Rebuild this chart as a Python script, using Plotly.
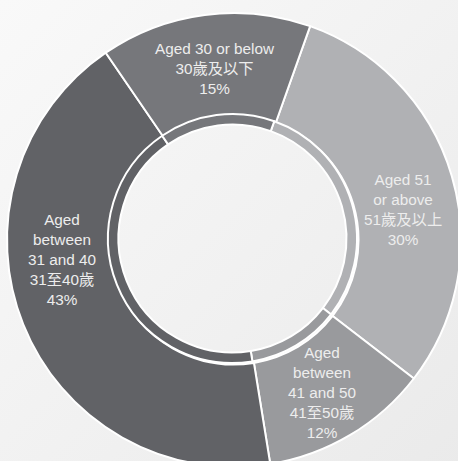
import base64
import plotly.graph_objects as go

# Data
labels = ["Aged 51 or above", "Aged between 41 and 50", "Aged between 31 and 40", "Aged 30 or below"]
label_text = [
    "Aged 51<br>or above<br>51歲及以上<br>30%",
    "Aged<br>between<br>41 and 50<br>41至50歲<br>12%",
    "Aged<br>between<br>31 and 40<br>31至40歲<br>43%",
    "Aged 30 or below<br>30歲及以下<br>15%",
]
values = [30, 12, 43, 15]
colors = ["#b0b1b4", "#999a9d", "#616266", "#76777b"]

# label centres in pixels (x from left, y from top)
label_px = [(403, 209.5), (322, 392), (62, 259.5), (215, 69)]

# Figure is slightly larger than the 458x461 window so the ring can be cropped at the edges
W, H = 466, 472
CX, CY, R = 234, 240, 227          # outer ring centre / radius (pixels)
ICX, ICY = 232.5, 238.5            # inner band centre
R_LINE, R_HOLE = 124.5, 114        # white ring radius, hole radius
ROT = 19.6

def dom(cx, cy, r):
    return dict(x=[(cx - r) / W, (cx + r) / W],
                y=[(H - cy - r) / H, (H - cy + r) / H])

fig = go.Figure()
fig.add_trace(go.Pie(
    labels=labels, values=values, sort=False, direction="clockwise",
    rotation=ROT, hole=R_LINE / R, textinfo="none", hoverinfo="label+percent",
    marker=dict(colors=colors, line=dict(color="white", width=2)),
    domain=dom(CX, CY, R), showlegend=False,
))
fig.add_trace(go.Pie(
    labels=labels, values=values, sort=False, direction="clockwise",
    rotation=ROT, hole=R_HOLE / R_LINE, textinfo="none", hoverinfo="skip",
    marker=dict(colors=colors, line=dict(color="white", width=2)),
    domain=dom(ICX, ICY, R_LINE), showlegend=False,
))

for txt, (px, py) in zip(label_text, label_px):
    fig.add_annotation(
        x=px / W, y=1 - py / H, xref="paper", yref="paper",
        text=txt, showarrow=False, xanchor="center", yanchor="middle",
        font=dict(family="Liberation Sans, Arial, Noto Sans CJK TC", size=15.3, color="#ededed"),
    )

svg = ('<svg xmlns="http://www.w3.org/2000/svg" width="458" height="461">'
       '<defs><linearGradient id="g" x1="0" y1="0" x2="1" y2="1">'
       '<stop offset="0" stop-color="#f9f9f9"/><stop offset="1" stop-color="#eaeaea"/>'
       '</linearGradient></defs><rect width="458" height="461" fill="url(#g)"/></svg>')
src = "data:image/svg+xml;base64," + base64.b64encode(svg.encode()).decode()
fig.add_layout_image(dict(
    source=src, xref="paper", yref="paper", x=0, y=1,
    sizex=1, sizey=1, sizing="stretch", layer="below",
    xanchor="left", yanchor="top",
))

fig.update_layout(
    width=W, height=H, margin=dict(l=0, r=0, t=0, b=0),
    paper_bgcolor="#f2f2f2", plot_bgcolor="#f2f2f2",
)
fig.write_html(
    "out.html",
    config={"displayModeBar": False},
    post_script="document.body.style.margin='0';document.body.style.overflow='hidden';",
)
